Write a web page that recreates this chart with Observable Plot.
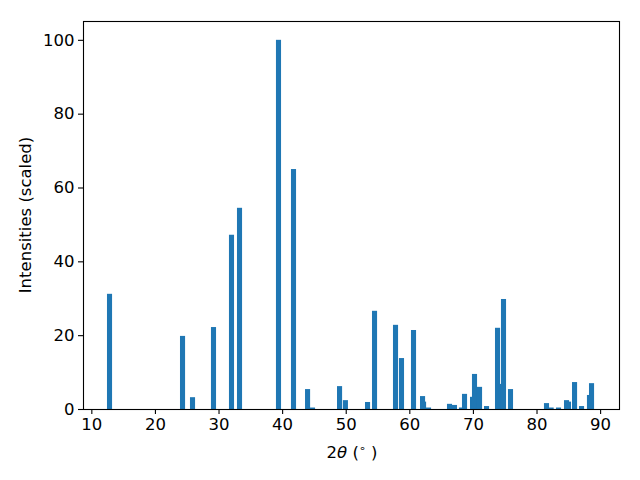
<!DOCTYPE html>
<html>
<head>
<meta charset="utf-8">
<script src="https://cdn.jsdelivr.net/npm/d3@7"></script>
<script src="https://cdn.jsdelivr.net/npm/@observablehq/plot@0.6"></script>
<style>
  html, body { margin: 0; padding: 0; background: #fff; }
  #chart { width: 640px; height: 480px; }
  #chart svg text { font-family: "DejaVu Sans", sans-serif; font-size: 16.5px; fill: black; }
</style>
</head>
<body>
<div id="chart"></div>
<script>
// Peak positions (2θ, degrees)
const positions = [12.86, 24.34, 25.91, 29.21, 32.04, 33.30, 39.43, 41.79, 44.00, 44.78,
  49.03, 49.95, 53.43, 54.53, 57.83, 58.77, 60.66, 62.24, 62.08, 63.02,
  66.32, 67.10, 68.20, 68.68, 69.94, 70.25, 71.04, 72.14, 73.87, 74.50,
  74.81, 75.91, 81.57, 82.30, 83.46, 85.03, 84.72, 85.98, 87.08, 88.33, 88.65];
// Scaled intensities
const intensities = [31.2, 19.8, 3.2, 22.2, 47.2, 54.5, 100, 65.0, 5.4, 0.4,
  6.2, 2.4, 1.9, 26.6, 22.8, 13.8, 21.4, 2.0, 3.5, 0.4,
  1.4, 1.1, 0.4, 4.1, 3.3, 9.5, 6.0, 0.8, 22.0, 6.8,
  29.8, 5.4, 1.6, 0.4, 0.4, 2.0, 2.4, 7.3, 0.8, 3.8, 7.0];
const xTicks = [10, 20, 30, 40, 50, 60, 70, 80, 90];
const yTicks = [0, 20, 40, 60, 80, 100];
const barWidth = 0.8;

const data = positions.map((p, i) => ({x: p, v: intensities[i]}));

const W = 640, H = 480;
const mL = 83, mR = 21, mT = 21, mB = 71;
const font = "DejaVu Sans, sans-serif";
const fs = "16.5px";

const chart = Plot.plot({
  width: W,
  height: H,
  marginLeft: mL,
  marginRight: mR,
  marginTop: mT,
  marginBottom: mB,
  style: {fontFamily: font, fontSize: fs, color: "black", background: "white"},
  x: {domain: [8.69, 92.97], label: null},
  y: {domain: [0, 105.1], label: null},
  marks: [
    Plot.rectY(data, {x1: d => d.x - barWidth / 2, x2: d => d.x + barWidth / 2, y: "v", fill: "#1f77b4"}),
    Plot.frame({stroke: "black", strokeWidth: 1.1}),
    Plot.axisX({ticks: xTicks, tickSize: 5, tickPadding: 4, strokeWidth: 1.1, label: null, tickFormat: d => String(d)}),
    Plot.axisY({ticks: yTicks, tickSize: 5, tickPadding: 4, strokeWidth: 1.1, label: null, tickFormat: d => String(d)})
  ]
});

document.getElementById("chart").appendChild(chart);

const svg = d3.select(chart);
// x label: 2θ (°)
const xl = svg.append("text")
  .attr("x", 352)
  .attr("y", 458)
  .attr("text-anchor", "middle")
  .attr("font-family", font)
  .attr("font-size", fs)
  .attr("fill", "black");
xl.append("tspan").text("2");
xl.append("tspan").attr("font-style", "italic").text("θ");
xl.append("tspan").text(" (");
xl.append("tspan").attr("style", "font-size:11px").attr("dy", "-6").text("∘");
xl.append("tspan").attr("dy", "6").text(" )");

// y label
svg.append("text")
  .attr("transform", `translate(31,${mT + (H - mT - mB) / 2}) rotate(-90)`)
  .attr("text-anchor", "middle")
  .attr("font-family", font)
  .attr("font-size", fs)
  .attr("fill", "black")
  .text("Intensities (scaled)");
</script>
</body>
</html>
